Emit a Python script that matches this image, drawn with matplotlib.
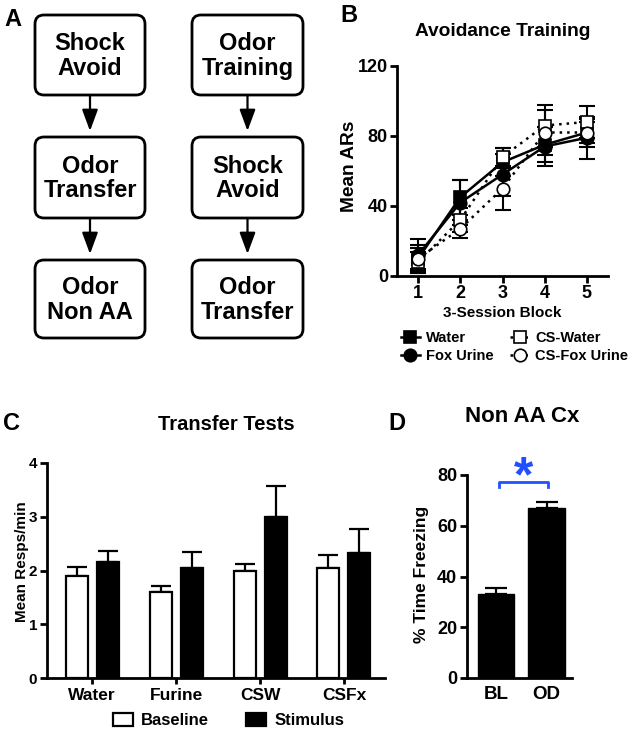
import matplotlib
matplotlib.use("Agg")
import matplotlib.pyplot as plt
from matplotlib.patches import FancyBboxPatch, Patch
from matplotlib.lines import Line2D
import numpy as np

plt.rcParams['font.family'] = ['Liberation Sans', 'DejaVu Sans']
plt.rcParams['font.weight'] = 'bold'
plt.rcParams['axes.labelweight'] = 'bold'

# ---------------- data ----------------
flow_left = ["Shock\nAvoid", "Odor\nTransfer", "Odor\nNon AA"]
flow_right = ["Odor\nTraining", "Shock\nAvoid", "Odor\nTransfer"]

blocks = [1, 2, 3, 4, 5]
water_mean = [10, 45, 65, 75, 82]
water_sem = [8, 10, 8, 10, 8]
fox_mean = [12, 42, 58, 74, 79]
fox_sem = [9, 13, 12, 11, 12]
cswater_mean = [8, 32, 68, 86, 88]
cswater_sem = [6, 7, 5, 12, 9]
csfox_mean = [10, 27, 50, 82, 82]
csfox_sem = [6, 5, 12, 13, 6]

transfer_groups = ["Water", "Furine", "CSW", "CSFx"]
baseline_mean = [1.9, 1.6, 2.0, 2.05]
baseline_sem = [0.16, 0.12, 0.12, 0.23]
stimulus_mean = [2.15, 2.05, 3.0, 2.33]
stimulus_sem = [0.21, 0.3, 0.58, 0.45]

freeze_labels = ["BL", "OD"]
freeze_mean = [33, 67]
freeze_sem = [2.5, 2.5]

W, H = 633, 730
fig = plt.figure(figsize=(W / 100, H / 100), dpi=100)

def rect(l, t, r, b):
    return [l / W, 1 - b / H, (r - l) / W, (b - t) / H]

# overlay axes in pixel coordinates
ov = fig.add_axes([0, 0, 1, 1])
ov.set_xlim(0, W)
ov.set_ylim(H, 0)
ov.axis('off')

# ---------------- Panel A: flow chart ----------------
cols = [(35, 145), (192, 303)]
rows = [(15, 95), (137, 218), (260, 338)]
for (x0, x1), labels in zip(cols, [flow_left, flow_right]):
    for i, ((y0, y1), lab) in enumerate(zip(rows, labels)):
        box = FancyBboxPatch((x0, y0), x1 - x0, y1 - y0,
                             boxstyle='round,pad=0,rounding_size=9',
                             fc='white', ec='black', lw=2)
        ov.add_patch(box)
        ov.text((x0 + x1) / 2, (y0 + y1) / 2 + 1, lab, ha='center', va='center',
                fontsize=17, fontweight='bold', linespacing=1.1)
        if i < 2:
            xc = (x0 + x1) / 2
            ov.annotate('', xy=(xc, rows[i + 1][0] - 6), xytext=(xc, y1),
                        arrowprops=dict(arrowstyle='-|>,head_length=1.3,head_width=0.48',
                                        mutation_scale=10, lw=1.6, color='black',
                                        shrinkA=0, shrinkB=0))

# panel letters
for s, x, y in [("A", 4, 20), ("B", 340, 16), ("C", 3, 423), ("D", 388, 423)]:
    ov.text(x, y, s, fontsize=17, fontweight='bold', va='center', ha='left')

# panel titles
ov.text(503, 31, "Avoidance Training", fontsize=13.8, fontweight='bold', ha='center', va='center')
ov.text(226, 424, "Transfer Tests", fontsize=14.5, fontweight='bold', ha='center', va='center')
ov.text(522, 417, "Non AA Cx", fontsize=16, fontweight='bold', ha='center', va='center')

def style_axes(ax, lw=2):
    for side in ['top', 'right']:
        ax.spines[side].set_visible(False)
    for side in ['left', 'bottom']:
        ax.spines[side].set_linewidth(lw)
    ax.tick_params(width=lw, length=5, direction='out')

def bold_ticks(ax):
    for t in ax.get_xticklabels() + ax.get_yticklabels():
        t.set_fontweight('bold')

# ---------------- Panel B ----------------
axB = fig.add_axes(rect(397, 66, 608, 276))
style_axes(axB)
series = [
    (water_mean, water_sem, 's', 'black', '-', 'Water'),
    (fox_mean, fox_sem, 'o', 'black', '-', 'Fox Urine'),
    (cswater_mean, cswater_sem, 's', 'white', (0, (1, 2)), 'CS-Water'),
    (csfox_mean, csfox_sem, 'o', 'white', (0, (1, 2)), 'CS-Fox Urine'),
]
handles = []
for m, e, mk, fc, ls, lab in series:
    axB.errorbar(blocks, m, yerr=e, fmt='none', ecolor='black', elinewidth=1.5,
                 capsize=6, capthick=1.5, zorder=2)
    axB.plot(blocks, m, linestyle=ls, color='black', lw=1.8, marker=mk,
             markersize=9, markerfacecolor=fc, markeredgecolor='black',
             markeredgewidth=1.2, zorder=3)
    handles.append(Line2D([0], [0], linestyle=ls, color='black', lw=1.8, marker=mk,
                          markersize=9, markerfacecolor=fc, markeredgecolor='black',
                          markeredgewidth=1.2, label=lab))
axB.set_xlim(0.5, 5.5)
axB.set_ylim(0, 120)
axB.set_xticks(blocks)
axB.set_yticks([0, 40, 80, 120])
axB.tick_params(labelsize=13, pad=1.5)
bold_ticks(axB)
axB.set_xlabel("3-Session Block", fontsize=11, fontweight='bold', labelpad=3)
axB.set_ylabel("Mean ARs", fontsize=13.8, fontweight='bold', va='center')
axB.yaxis.set_label_coords(-0.225, 0.52)
axB.legend(handles=handles, ncol=2, loc='upper left', bbox_to_anchor=(401 / W, 1 - 331 / H),
           bbox_transform=fig.transFigure, frameon=False,
           handlelength=1.3, handletextpad=0.4, columnspacing=1.15, labelspacing=0.25,
           borderpad=0, borderaxespad=0, prop={'weight': 'bold', 'size': 10.5})

# ---------------- Panel C ----------------
axC = fig.add_axes(rect(47, 463, 385, 678))
style_axes(axC)
x = np.arange(len(transfer_groups))
off = 0.185
bw = 0.262
axC.bar(x - off, baseline_mean, bw, color='white', edgecolor='black', lw=1.6, zorder=2)
axC.bar(x + off, stimulus_mean, bw, color='black', edgecolor='black', lw=1.6, zorder=2)
axC.errorbar(x - off, baseline_mean, yerr=[np.zeros(4), baseline_sem], fmt='none',
             ecolor='black', elinewidth=1.6, capsize=7, capthick=1.6, zorder=1)
axC.errorbar(x + off, stimulus_mean, yerr=[np.zeros(4), stimulus_sem], fmt='none',
             ecolor='black', elinewidth=1.6, capsize=7, capthick=1.6, zorder=1)
axC.set_xlim(-0.54, 3.49)
axC.set_ylim(0, 4)
axC.set_yticks([0, 1, 2, 3, 4])
axC.set_xticks(x)
axC.set_xticklabels(transfer_groups)
axC.tick_params(axis='y', labelsize=11, pad=2)
axC.tick_params(axis='x', labelsize=12.5, length=4, pad=3)
bold_ticks(axC)
axC.set_ylabel("Mean Resps/min", fontsize=11, fontweight='bold', va='center')
axC.yaxis.set_label_coords(-0.075, 0.54)
legC = [Patch(facecolor='white', edgecolor='black', lw=1.6, label='Baseline'),
        Patch(facecolor='black', edgecolor='black', lw=1.6, label='Stimulus')]
axC.legend(handles=legC, ncol=2, loc='upper left', bbox_to_anchor=(113 / W, 1 - 713 / H),
           bbox_transform=fig.transFigure, frameon=False,
           handlelength=1.2, handleheight=0.8, handletextpad=0.5, columnspacing=2.2,
           borderpad=0, borderaxespad=0, prop={'weight': 'bold', 'size': 12})

# ---------------- Panel D ----------------
axD = fig.add_axes(rect(467, 475, 572, 678))
style_axes(axD)
xd = np.arange(len(freeze_labels))
axD.bar(xd, freeze_mean, 0.72, color='black', edgecolor='black', zorder=2)
axD.errorbar(xd, freeze_mean, yerr=[np.zeros(2), freeze_sem], fmt='none', ecolor='black',
             elinewidth=1.6, capsize=8, capthick=1.6, zorder=1)
axD.set_xlim(-0.58, 1.505)
axD.set_ylim(0, 80)
axD.set_yticks([0, 20, 40, 60, 80])
axD.set_xticks(xd)
axD.set_xticklabels(freeze_labels)
axD.tick_params(axis='y', labelsize=13, pad=2)
axD.tick_params(axis='x', labelsize=13.5, length=0, pad=6)
bold_ticks(axD)
axD.set_ylabel("% Time Freezing", fontsize=12.5, fontweight='bold', va='center')
axD.yaxis.set_label_coords(-0.43, 0.51)
blue = '#2150ff'
axD.plot([0.06, 0.06, 1.03, 1.03], [75.2, 77.3, 77.3, 75.2], color=blue, lw=2,
         clip_on=False)
axD.text(0.545, 78.8, "*", color=blue, fontsize=36, fontweight='bold',
         ha='center', va='center', clip_on=False)

fig.savefig("out.png", dpi=100)
